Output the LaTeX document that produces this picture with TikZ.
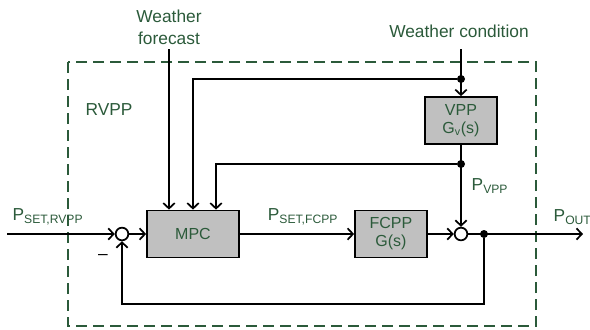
\documentclass[tikz,border=0pt]{standalone}
\usepackage{fontspec}
\setmainfont{Liberation Sans}
\usepackage{tikz}
\usetikzlibrary{calc,arrows.meta}
\definecolor{labelgreen}{HTML}{2B5A3A}
\definecolor{blockgray}{HTML}{C0C0C0}
\tikzset{
  block/.style={draw, line width=1.3pt, fill=blockgray, text=labelgreen,
    minimum height=35.25pt, align=center, inner sep=0pt,
    font=\fontsize{12}{13.5}\selectfont},
  sumpoint/.style={draw, circle, line width=1.3pt, fill=white,
    minimum size=9.5pt, inner sep=0pt},
  branch/.style={circle, fill, minimum size=6pt, inner sep=0pt},
  signal/.style={line width=1.3pt, -{Straight Barb[length=4pt,width=8.5pt]}},
  lbl/.style={text=labelgreen, align=center, font=\fontsize{13}{16.5}\selectfont},
  boundary/.style={draw=labelgreen, line width=1pt, dash pattern=on 8.25pt off 4.5pt}
}

\begin{document}
\begin{tikzpicture}[x=0.75pt, y=-0.75pt]

  % page frame
  \useasboundingbox (0,0) rectangle (590,329);

  % RVPP boundary
  \draw[boundary] (68,62) rectangle (536,326);
  \node[lbl] (rvpp) at (109,110) {RVPP};

  % blocks
  \node[block, minimum width=69pt] (mpc) at (193,234) {MPC};
  \node[block, minimum width=54pt] (fcpp) at (391,234) {FCPP\\G(s)};
  \node[block, minimum width=54pt] (vpp) at (461,120.5) {VPP\\G\textsubscript{v}(s)};

  % summing points
  \node[sumpoint] (s1) at (122,234) {};
  \node[sumpoint] (s2) at (461,234) {};

  % branch points
  \node[branch] (dtop) at (461,79) {};
  \node[branch] (dmid) at (461,164) {};
  \node[branch] (dout) at (484,234) {};

  % free ends
  \coordinate (in) at (7,234);
  \coordinate (out) at (583,234);
  \coordinate (fcin) at (169,49);
  \coordinate (wcin) at (461,49);

  % external inputs
  \node[lbl] (fc) at (169,27) {Weather\\forecast};
  \node[lbl] (wc) at (459,31) {Weather condition};

  % signal names
  \node[lbl] (pset) at (48,217) {P\textsubscript{SET,RVPP}};
  \node[lbl] (psetf) at (303,217) {P\textsubscript{SET,FCPP}};
  \node[lbl] (pvpp) at (490,186) {P\textsubscript{VPP}};
  \node[lbl, anchor=west] (pout) at (549,217) {P\textsubscript{OUT}};
  \node[lbl, text=black] (minus) at (103,257) {–};

  % forward path
  \draw[signal] (in) -- (s1);
  \draw[signal] (s1) -- (mpc);
  \draw[signal] (mpc) -- (fcpp);
  \draw[signal] (fcpp) -- (s2);
  \draw[signal] (s2) -- (out);

  % weather inputs
  \draw[signal] (fcin) -- (fcin |- mpc.north);
  \draw[signal] (wcin) -- (vpp);
  \draw[signal] (vpp) -- (s2);

  % loops back to the controller
  \draw[signal] (dtop) -| (mpc.north);
  \draw[signal] (dmid) -| ($(mpc.north)+(23,0)$);
  \draw[signal] (dout) -- ++(0,70) -| (s1);

\end{tikzpicture}
\end{document}
